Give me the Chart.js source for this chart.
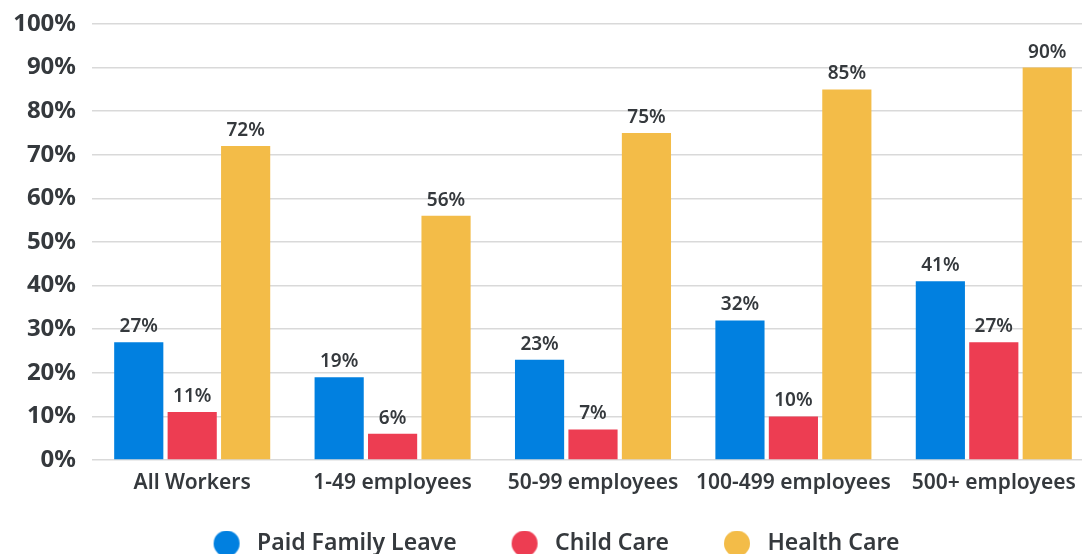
<!DOCTYPE html>
<html>
<head>
<meta charset="utf-8">
<script src="https://cdn.jsdelivr.net/npm/chart.js@4/dist/chart.umd.min.js"></script>
<style>
  html, body { margin: 0; padding: 0; background: #fff; overflow: hidden; }
  #wrap { width: 1094px; height: 565px; position: relative; }
</style>
</head>
<body>
<div id="wrap"><canvas id="chart"></canvas></div>
<script>
// data
var categories = ['All Workers', '1-49 employees', '50-99 employees', '100-499 employees', '500+ employees'];
var paidFamilyLeave = [27, 19, 23, 32, 41];
var childCare = [11, 6, 7, 10, 27];
var healthCare = [72, 56, 75, 85, 90];
var yTicks = [0, 10, 20, 30, 40, 50, 60, 70, 80, 90, 100];

var colors = ['#0180e0', '#ed3d52', '#f3bc48'];
var textColor = '#35393d';
var fontFamily = '"Noto Sans", Inter, sans-serif';

// legend marker: a round dot with some empty room on both sides
function makeDot(color) {
    var c = document.createElement('canvas');
    c.width = 51;
    c.height = 26;
    var g = c.getContext('2d');
    g.fillStyle = color;
    g.beginPath();
    g.arc(32, 13, 13, 0, Math.PI * 2);
    g.fill();
    return c;
}
var dots = colors.map(makeDot);

// draws the value above each bar
var barLabels = {
    id: 'barLabels',
    afterDatasetsDraw: function (chart) {
        var ctx = chart.ctx;
        ctx.save();
        ctx.font = '600 19px ' + fontFamily;
        ctx.fillStyle = textColor;
        ctx.textAlign = 'center';
        ctx.textBaseline = 'bottom';
        chart.data.datasets.forEach(function (ds, i) {
            chart.getDatasetMeta(i).data.forEach(function (bar, j) {
                ctx.fillText(ds.data[j] + '%', bar.x, bar.y - 6);
            });
        });
        ctx.restore();
    }
};

var ctx = document.getElementById('chart').getContext('2d');
new Chart(ctx, {
    type: 'bar',
    data: {
        labels: categories,
        datasets: [
            { label: 'Paid Family Leave', data: paidFamilyLeave, backgroundColor: colors[0] },
            { label: 'Child Care', data: childCare, backgroundColor: colors[1] },
            { label: 'Health Care', data: healthCare, backgroundColor: colors[2] }
        ]
    },
    options: {
        responsive: true,
        maintainAspectRatio: false,
        animation: false,
        categoryPercentage: 0.8,
        barPercentage: 0.92,
        layout: { padding: { top: 24, left: 0, right: 0, bottom: 0 } },
        plugins: {
            tooltip: { enabled: false },
            legend: {
                position: 'bottom',
                labels: {
                    usePointStyle: true,
                    boxWidth: 51,
                    boxHeight: 24,
                    pointStyleWidth: 51,
                    padding: 36,
                    color: textColor,
                    font: { family: fontFamily, size: 23, weight: '600' },
                    generateLabels: function (chart) {
                        var items = Chart.defaults.plugins.legend.labels.generateLabels(chart);
                        items.forEach(function (it) { it.pointStyle = dots[it.datasetIndex]; });
                        return items;
                    }
                }
            }
        },
        scales: {
            x: {
                grid: { display: false, drawTicks: false },
                border: { display: false },
                ticks: {
                    color: textColor,
                    padding: 10,
                    autoSkip: false,
                    maxRotation: 0,
                    minRotation: 0,
                    font: { family: fontFamily, size: 21, weight: '600' }
                },
                afterFit: function (scale) { scale.height = 36; }
            },
            y: {
                min: 0,
                max: 100,
                afterBuildTicks: function (scale) {
                    scale.ticks = yTicks.map(function (v) { return { value: v }; });
                },
                grid: { color: '#d9d9d9', lineWidth: 1.5, drawTicks: false },
                border: { display: false },
                ticks: {
                    color: textColor,
                    padding: 16,
                    font: { family: fontFamily, size: 24, weight: '700' },
                    callback: function (v) { return v + '%'; }
                },
                afterFit: function (scale) {
                    scale.width = 92;
                    scale.paddingTop = 0;
                    scale.paddingBottom = 0;
                }
            }
        }
    },
    plugins: [barLabels]
});
</script>
</body>
</html>
